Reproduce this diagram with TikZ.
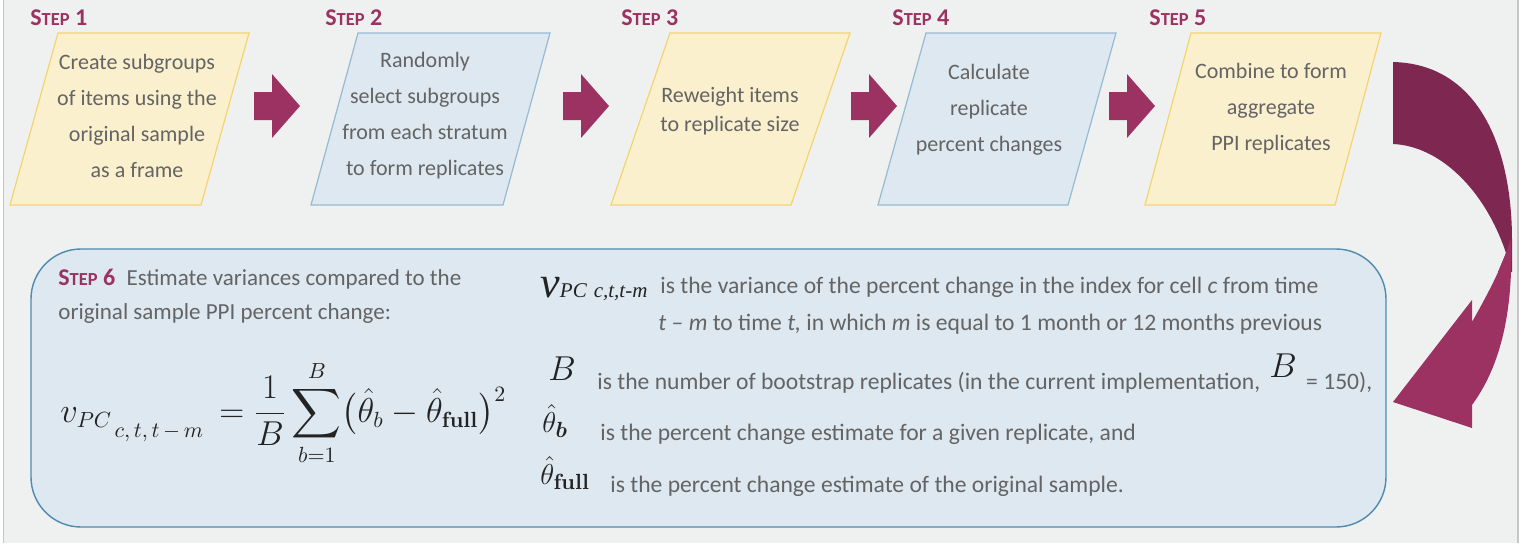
\documentclass[tikz,border=0pt]{standalone}
\usepackage{amsmath}
\usepackage[no-math]{fontspec}
\setmainfont{Carlito}
\newfontfamily\timesit{Liberation Serif}

\definecolor{bgray}{RGB}{239,241,240}
\definecolor{edgegray}{RGB}{198,198,198}
\definecolor{plum}{RGB}{155,50,98}
\definecolor{darkplum}{RGB}{126,39,80}
\definecolor{paleyellow}{RGB}{251,240,205}
\definecolor{goldline}{RGB}{244,212,110}
\definecolor{paleblue}{RGB}{221,232,240}
\definecolor{blueline}{RGB}{150,186,210}
\definecolor{boxline}{RGB}{80,138,175}
\definecolor{txtgray}{RGB}{100,100,100}
\definecolor{mathink}{RGB}{35,35,35}

\newcommand{\steplab}[1]{{\bfseries\fontsize{12}{14}\selectfont S{\fontsize{9.2}{11}\selectfont TEP} #1}}

\tikzset{
  steptext/.style={text=txtgray, align=center, inner sep=0pt, font=\fontsize{11}{18}\selectfont},
  steplabel/.style={text=plum, anchor=base west, inner sep=0pt},
  deftext/.style={text=txtgray, anchor=base west, inner sep=0pt, font=\fontsize{11.8}{14}\selectfont},
  mathsym/.style={text=mathink, anchor=base west, inner sep=0pt},
}

\begin{document}
\begin{tikzpicture}[x=0.5pt,y=-0.5pt]
  \useasboundingbox (0,0) rectangle (1523,543);
  \fill[bgray] (4,0) rectangle (1518,543);
  \draw[edgegray,line width=0.8pt] (3.5,0) -- (3.5,543) (1518,0) -- (1518,543);
  %
  % the five step boxes
  \foreach \bl/\w/\sl/\fc/\lc in {10/191/48/paleyellow/goldline,
      311/192/47/paleblue/blueline, 611/180/59/paleyellow/goldline,
      878/190/48/paleblue/blueline, 1145/190/46/paleyellow/goldline}
    \draw[draw=\lc,fill=\fc,line width=0.6pt] (\bl,205) -- ++(\w,0) -- ++(\sl,-172) -- ++(-\w,0) -- cycle;
  %
  \node[steplabel] (lab1) at (30,25) {\steplab{1}};
  \node[steplabel] (lab2) at (325,25) {\steplab{2}};
  \node[steplabel] (lab3) at (621,25) {\steplab{3}};
  \node[steplabel] (lab4) at (892,25) {\steplab{4}};
  \node[steplabel] (lab5) at (1149,25) {\steplab{5}};
  %
  \node[steptext] (step1) at (137,116) {Create subgroups\\of items using the\\original sample\\as a frame};
  \node[steptext] (step2) at (425,116) {Randomly\\select subgroups\\from each stratum\\to form replicates};
  \node[steptext,font=\fontsize{11}{14.5}\selectfont] (step3) at (730,111) {Reweight items\\to replicate size};
  \node[steptext] (step4) at (989,110) {Calculate\\replicate\\percent changes};
  \node[steptext] (step5) at (1271,109) {Combine to form\\aggregate\\PPI replicates};
  %
  % block arrows between the steps
  \foreach \ax in {254,563,851,1109}
    \fill[plum] (\ax,92) -- ++(18,0) -- ++(0,-18) -- ++(28,32) -- ++(-28,32) -- ++(0,-18) -- ++(-18,0) -- cycle;
  %
  % curved arrow down to step 6
  \fill[darkplum] (1393,62) .. controls (1480,64) and (1512,150) .. (1512,240) -- (1512,272) -- (1498,272)
    -- (1506,253) .. controls (1485,190) and (1440,146) .. (1393,144) -- cycle;
  \fill[plum] (1511,238) .. controls (1513,300) and (1505,360) .. (1472,405) -- (1472,428) -- (1393,402)
    -- (1472,300) -- (1472,322) .. controls (1490,290) and (1503,265) .. (1511,238) -- cycle;
  %
  % step 6
  \draw[boxline,fill=paleblue,line width=0.7pt,rounded corners=25pt] (31,249) rectangle (1386,527);
  \node[deftext,font=\fontsize{11.5}{14}\selectfont] (est1) at (58,285) {{\color{plum}\steplab{6}}\enspace Estimate variances compared to the};
  \node[deftext,font=\fontsize{11.5}{14}\selectfont] (est2) at (58,319) {original sample PPI percent change:};
  %
  \node[text=mathink,inner sep=0pt,anchor=west] (vform) at (60,413) {\fontsize{16}{18}\selectfont
    $\displaystyle v_{PC\,\lower5pt\hbox{$\scriptstyle c,\,t,\,t\,-\,m$}}\,=\frac{1}{B}\sum_{b=1}^{B}\bigl(\hat{\theta}_b-\hat{\theta}_{\mathbf{full}}\bigr)^{2}$};
  %
  \node[mathsym] (dv) at (540,297) {\timesit\itshape{\fontsize{22}{22}\selectfont v}{\fontsize{10.5}{12}\selectfont PC\,\,c,t,t-m}};
  \node[deftext] (dvtxt1) at (660,293) {is the variance of the percent change in the index for cell \textit{c} from time};
  \node[deftext] (dvtxt2) at (658,330) {\textit{t} -- \textit{m} to time \textit{t,} in which \textit{m} is equal to 1 month or 12 months previous};
  \node[mathsym,font=\fontsize{16}{16}\selectfont] (dB) at (548,380) {$B$};
  \node[deftext] (dBtxt) at (597,389) {is the number of bootstrap replicates (in the current implementation,\,
    \raisebox{6pt}{\color{mathink}\fontsize{16}{16}\selectfont$B$}\, = 150),};
  \node[mathsym,font=\fontsize{15}{15}\selectfont] (dthb) at (542,432) {$\hat{\theta}_{\boldsymbol{b}}$};
  \node[deftext] (dthbtxt) at (600,440) {is the percent change estimate for a given replicate, and};
  \node[mathsym,font=\fontsize{15}{15}\selectfont] (dthf) at (540,484) {$\hat{\theta}_{\mathbf{full}}$};
  \node[deftext] (dthftxt) at (610,492) {is the percent change estimate of the original sample.};
\end{tikzpicture}
\end{document}
